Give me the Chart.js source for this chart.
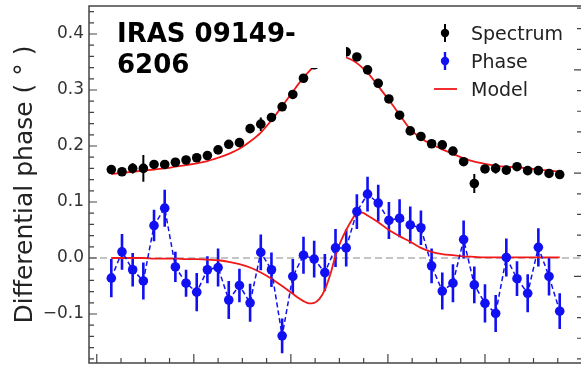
<!DOCTYPE html>
<html>
<head>
<meta charset="utf-8">
<script src="https://cdn.jsdelivr.net/npm/chart.js@4.4.1/dist/chart.umd.min.js"></script>
<style>
  html, body { margin: 0; padding: 0; background: #fff; overflow: hidden; width: 581px; height: 369px; }
  #wrap { position: relative; width: 590px; height: 369px; }
  canvas { display: block; }
</style>
</head>
<body>
<div id="wrap"><canvas id="c" width="590" height="369"></canvas></div>
<script>
// Spectral channels (km/s)
const velocity = [-570, -548, -526, -504, -482, -460, -438, -416, -394, -372,
                  -350, -328, -306, -284, -262, -240, -218, -196, -174, -152,
                  -130, -108, -86, -64, -42, -20, 2, 24, 46, 68,
                  90, 112, 134, 156, 178, 200, 222, 244, 266, 288,
                  310, 332, 354];

// Line profile (scaled and offset onto the phase axis)
const spectrum = [0.158, 0.154, 0.160, 0.160, 0.167, 0.167, 0.171, 0.175, 0.179, 0.183,
                  0.193, 0.203, 0.206, 0.231, 0.239, 0.251, 0.270, 0.292, 0.321, 0.345,
                  0.360, 0.370, 0.368, 0.359, 0.336, 0.312, 0.284, 0.255, 0.227, 0.217,
                  0.204, 0.202, 0.191, 0.172, 0.133, 0.159, 0.160, 0.157, 0.163, 0.156,
                  0.156, 0.151, 0.149];
const spectrumErr = [0.004, 0.004, 0.009, 0.024, 0.004, 0.004, 0.004, 0.004, 0.004, 0.004,
                     0.004, 0.005, 0.004, 0.005, 0.012, 0.004, 0.004, 0.004, 0.004, 0.004,
                     0.004, 0.004, 0.004, 0.004, 0.004, 0.004, 0.004, 0.004, 0.004, 0.004,
                     0.004, 0.004, 0.004, 0.005, 0.017, 0.004, 0.009, 0.004, 0.005, 0.004,
                     0.004, 0.004, 0.004];

// Differential phase (degrees)
const phase = [-0.036, 0.011, -0.021, -0.041, 0.058, 0.089, -0.016, -0.045, -0.061, -0.021,
               -0.017, -0.075, -0.049, -0.080, 0.010, -0.021, -0.139, -0.033, 0.005, -0.002,
               -0.026, 0.018, 0.018, 0.083, 0.114, 0.098, 0.067, 0.071, 0.059, 0.054,
               -0.014, -0.059, -0.045, 0.033, -0.048, -0.081, -0.099, 0.001, -0.037, -0.063,
               0.019, -0.033, -0.095];
const phaseErr = [0.034, 0.032, 0.030, 0.033, 0.028, 0.033, 0.027, 0.024, 0.034, 0.024,
                  0.034, 0.034, 0.030, 0.034, 0.032, 0.031, 0.031, 0.031, 0.033, 0.033,
                  0.033, 0.034, 0.033, 0.031, 0.031, 0.033, 0.033, 0.034, 0.033, 0.031,
                  0.031, 0.033, 0.034, 0.034, 0.033, 0.034, 0.033, 0.034, 0.031, 0.034,
                  0.034, 0.034, 0.032];

// Model curves, sampled more finely across the line core
const modelVelocity = [-570, -548, -526, -504, -482, -460, -438, -416, -394, -372,
                       -350, -328, -306, -284, -262, -240, -218, -196, -185, -174,
                       -163, -152, -141, -130, -119, -108, -97, -86, -75, -64,
                       -53, -42, -20, 2, 24, 46, 68, 90, 112, 134,
                       156, 178, 200, 222, 244, 266, 288, 310, 332, 354];
const spectrumModel = [0.150, 0.152, 0.154, 0.156, 0.158, 0.160, 0.163, 0.166, 0.169, 0.173,
                       0.179, 0.186, 0.195, 0.208, 0.224, 0.246, 0.271, 0.297, 0.310, 0.322,
                       0.333, 0.342, 0.350, 0.356, 0.360, 0.362, 0.361, 0.358, 0.354, 0.348,
                       0.340, 0.331, 0.307, 0.282, 0.256, 0.230, 0.214, 0.203, 0.194, 0.186,
                       0.178, 0.172, 0.168, 0.165, 0.163, 0.162, 0.160, 0.158, 0.156, 0.154];
const phaseModel = [0.000, 0.000, 0.000, 0.000, -0.001, -0.001, -0.001, -0.002, -0.002, -0.003,
                    -0.004, -0.007, -0.011, -0.017, -0.026, -0.037, -0.050, -0.064, -0.071, -0.077,
                    -0.081, -0.080, -0.073, -0.057, -0.030, 0.004, 0.030, 0.050, 0.067, 0.080,
                    0.081, 0.076, 0.064, 0.050, 0.039, 0.029, 0.018, 0.011, 0.007, 0.005,
                    0.003, 0.002, 0.001, 0.001, 0.001, 0.001, 0.001, 0.001, 0.001, 0.001];

const yTicks = [-0.1, 0.0, 0.1, 0.2, 0.3, 0.4];
const titleLines = ['IRAS 09149-', '6206'];
const legendItems = ['Spectrum', 'Phase', 'Model'];

const BLUE = '#1010f2';
const RED = '#f01818';
const AXIS = '#444';

const pts = (xs, ys) => xs.map((v, i) => ({ x: v, y: ys[i] }));

function drawErrors(ctx, xs, ys, vals, errs, color, width) {
  ctx.strokeStyle = color;
  ctx.lineWidth = width;
  ctx.beginPath();
  vals.forEach((v, i) => {
    const px = xs.getPixelForValue(velocity[i]);
    ctx.moveTo(px, ys.getPixelForValue(v - errs[i]));
    ctx.lineTo(px, ys.getPixelForValue(v + errs[i]));
  });
  ctx.stroke();
}

function tickSet(from, to, step) {
  const out = [];
  for (let k = Math.round(from / step); k * step <= to + 1e-9; k++) out.push(k * step);
  return out;
}

const decorations = {
  id: 'decorations',
  beforeDatasetsDraw(chart) {
    const { ctx, chartArea: a, scales: { x, y } } = chart;
    ctx.save();
    ctx.beginPath();
    ctx.rect(a.left, a.top, a.right - a.left, a.bottom - a.top);
    ctx.clip();
    // zero reference
    const y0 = y.getPixelForValue(0);
    ctx.strokeStyle = '#8a8a8a';
    ctx.lineWidth = 1.2;
    ctx.setLineDash([7, 4]);
    ctx.beginPath();
    ctx.moveTo(a.left, y0);
    ctx.lineTo(a.right, y0);
    ctx.stroke();
    ctx.setLineDash([]);
    // error bars
    drawErrors(ctx, x, y, spectrum, spectrumErr, '#000', 2);
    drawErrors(ctx, x, y, phase, phaseErr, BLUE, 2.6);
    ctx.restore();
  },
  afterDatasetsDraw(chart) {
    const { ctx, chartArea: a, scales: { x, y, y2 } } = chart;
    ctx.save();

    // object name, on a white box
    ctx.fillStyle = '#fff';
    ctx.fillRect(a.left + 11, a.top + 2, 246, 60);
    ctx.fillStyle = '#000';
    ctx.font = 'bold 26px "DejaVu Sans"';
    ctx.textBaseline = 'alphabetic';
    ctx.textAlign = 'left';
    ctx.fillText(titleLines[0], a.left + 28, 42);
    ctx.fillText(titleLines[1], a.left + 28, 73);

    // legend
    ctx.fillStyle = '#fff';
    ctx.fillRect(425, 12, 148, 92);
    const lx = 445, rows = [33, 61, 89];
    ctx.strokeStyle = '#000'; ctx.lineWidth = 2;
    ctx.beginPath(); ctx.moveTo(lx, rows[0] - 9); ctx.lineTo(lx, rows[0] + 9); ctx.stroke();
    ctx.fillStyle = '#000';
    ctx.beginPath(); ctx.arc(lx, rows[0], 4.2, 0, Math.PI * 2); ctx.fill();
    ctx.strokeStyle = BLUE; ctx.lineWidth = 2.4;
    ctx.beginPath(); ctx.moveTo(lx, rows[1] - 9); ctx.lineTo(lx, rows[1] + 9); ctx.stroke();
    ctx.fillStyle = BLUE;
    ctx.beginPath(); ctx.arc(lx, rows[1], 4.2, 0, Math.PI * 2); ctx.fill();
    ctx.strokeStyle = RED; ctx.lineWidth = 1.8;
    ctx.beginPath(); ctx.moveTo(434, rows[2]); ctx.lineTo(457, rows[2]); ctx.stroke();
    ctx.fillStyle = '#222';
    ctx.font = '19px "DejaVu Sans"';
    ctx.textBaseline = 'alphabetic';
    legendItems.forEach((t, i) => ctx.fillText(t, 471, rows[i] + 7));

    // frame
    ctx.strokeStyle = AXIS;
    ctx.lineWidth = 1.5;
    ctx.strokeRect(a.left, a.top, a.right - a.left, a.bottom - a.top);

    // inward tick marks
    ctx.lineWidth = 1.2;
    ctx.beginPath();
    tickSet(-0.18, 0.44, 0.02).forEach(v => {
      const py = y.getPixelForValue(v);
      const major = Math.abs(Math.round(v * 10) - v * 10) < 1e-6;
      ctx.moveTo(a.left, py); ctx.lineTo(a.left + (major ? 8 : 5), py);
    });
    tickSet(-600, 400, 50).forEach(v => {
      const px = x.getPixelForValue(v);
      const major = v % 200 === 0;
      ctx.moveTo(px, a.bottom); ctx.lineTo(px, a.bottom - (major ? 9 : 5));
    });
    tickSet(0.2, 3.6, 0.2).forEach(v => {
      const py = y2.getPixelForValue(v);
      const major = Math.abs(Math.round(v) - v) < 1e-6;
      ctx.moveTo(a.right, py); ctx.lineTo(a.right - (major ? 9 : 6), py);
    });
    ctx.stroke();
    ctx.restore();
  }
};

new Chart(document.getElementById('c'), {
  type: 'line',
  data: {
    datasets: [
      {
        label: 'Spectrum', data: pts(velocity, spectrum), showLine: false,
        pointRadius: 4.8, pointBackgroundColor: '#000', pointBorderWidth: 0, order: 1
      },
      {
        label: 'Phase', data: pts(velocity, phase), borderColor: BLUE, borderWidth: 1.5,
        borderDash: [5, 3], pointRadius: 4.8, pointBackgroundColor: BLUE,
        pointBorderWidth: 0, tension: 0, order: 2
      },
      {
        label: 'Model', data: pts(modelVelocity, spectrumModel), borderColor: RED, borderWidth: 1.8,
        pointRadius: 0, cubicInterpolationMode: 'monotone', order: 3
      },
      {
        label: 'Model phase', data: pts(modelVelocity, phaseModel), borderColor: RED, borderWidth: 1.8,
        pointRadius: 0, cubicInterpolationMode: 'monotone', order: 3
      }
    ]
  },
  options: {
    responsive: false,
    animation: false,
    devicePixelRatio: 1,
    events: [],
    layout: { padding: { top: 6, left: 0, right: 0, bottom: 0 } },
    plugins: { legend: { display: false }, tooltip: { enabled: false }, title: { display: false } },
    scales: {
      x: {
        type: 'linear', position: 'bottom', min: -616, max: 402,
        ticks: { display: false }, grid: { display: false, drawTicks: false },
        border: { display: false },
        afterFit(s) { s.height = 6; s.paddingLeft = 0; s.paddingRight = 0; }
      },
      y: {
        type: 'linear', position: 'left', min: -0.1875, max: 0.45,
        afterBuildTicks(s) { s.ticks = yTicks.map(v => ({ value: v })); },
        ticks: {
          padding: 5, color: '#333', font: { family: 'DejaVu Sans', size: 17 },
          callback: (v) => (v < -1e-9 ? '\u2212' + Math.abs(v).toFixed(1) : Math.abs(v).toFixed(1))
        },
        grid: { display: false, drawTicks: false },
        border: { display: false },
        title: {
          display: true, text: 'Differential phase ( \u00b0 )', color: '#222',
          font: { family: 'DejaVu Sans', size: 25 }, padding: { top: 10, bottom: 0 }
        },
        afterFit(s) { s.width = 89; s.paddingTop = 0; s.paddingBottom = 0; }
      },
      y2: {
        type: 'linear', position: 'right', min: 0.16, max: 3.62,
        ticks: { display: false }, grid: { display: false, drawTicks: false },
        border: { display: false },
        afterFit(s) { s.width = 7; s.paddingTop = 0; s.paddingBottom = 0; }
      }
    }
  },
  plugins: [decorations]
});
</script>
</body>
</html>
